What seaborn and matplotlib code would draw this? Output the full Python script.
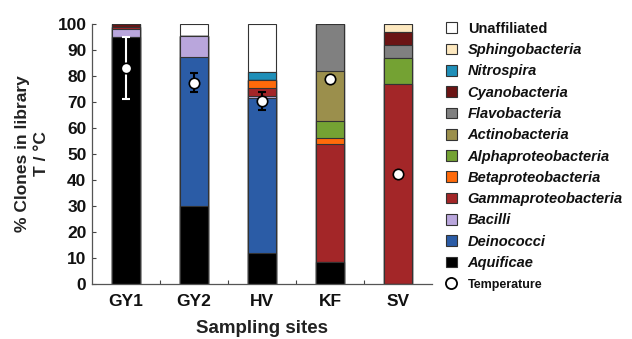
import numpy as np
import pandas as pd
import matplotlib
matplotlib.use("Agg")
import matplotlib.pyplot as plt
from matplotlib.patches import Patch
from matplotlib.lines import Line2D
import seaborn as sns

sites = ["GY1", "GY2", "HV", "KF", "SV"]

# taxa from bottom to top of the stack
taxa = ["Aquificae", "Deinococci", "Bacilli", "Gammaproteobacteria",
        "Betaproteobacteria", "Alphaproteobacteria", "Actinobacteria",
        "Flavobacteria", "Cyanobacteria", "Nitrospira", "Sphingobacteria",
        "Unaffiliated"]

aquificae = [95.0, 30.0, 12.0, 8.6, 0.0]
deinococci = [0.0, 57.5, 59.5, 0.0, 0.0]
bacilli = [3.0, 8.0, 1.0, 0.0, 0.0]
gammaproteobacteria = [1.0, 0.0, 3.0, 45.3, 77.0]
betaproteobacteria = [0.0, 0.0, 3.0, 2.1, 0.0]
alphaproteobacteria = [0.0, 0.0, 0.0, 6.8, 10.0]
actinobacteria = [0.0, 0.0, 0.0, 19.2, 0.0]
flavobacteria = [0.0, 0.0, 0.0, 18.0, 5.0]
cyanobacteria = [1.0, 0.0, 0.0, 0.0, 5.0]
nitrospira = [0.0, 0.0, 3.0, 0.0, 0.0]
sphingobacteria = [0.0, 0.0, 0.0, 0.0, 3.0]
unaffiliated = [0.0, 4.5, 18.5, 0.0, 0.0]

temperature = [83.0, 77.5, 70.3, 79.0, 42.2]
temperature_err = [12.0, 3.5, 3.5, 0.0, 0.0]

colors = {
    "Aquificae": "#000000",
    "Deinococci": "#2b5ca6",
    "Bacilli": "#b9a6dc",
    "Gammaproteobacteria": "#a32628",
    "Betaproteobacteria": "#ff6a0a",
    "Alphaproteobacteria": "#74a233",
    "Actinobacteria": "#9b8f4c",
    "Flavobacteria": "#808080",
    "Cyanobacteria": "#6b1414",
    "Nitrospira": "#1f8fb8",
    "Sphingobacteria": "#fde8bf",
    "Unaffiliated": "#ffffff",
}

values = [aquificae, deinococci, bacilli, gammaproteobacteria,
          betaproteobacteria, alphaproteobacteria, actinobacteria,
          flavobacteria, cyanobacteria, nitrospira, sphingobacteria,
          unaffiliated]

df = pd.DataFrame(dict(zip(taxa, values)), index=sites)
cum = df.cumsum(axis=1)

sns.set_theme(style="white")
plt.rcParams["font.family"] = ["Liberation Sans", "DejaVu Sans"]
plt.rcParams["font.weight"] = "bold"

fig = plt.figure(figsize=(6.32, 3.39), dpi=100)
ax = fig.add_axes([92 / 632, 1 - 284 / 339, 340 / 632, 260 / 339])

# stacked bars: draw cumulative tops from the top layer down
for taxon in reversed(taxa):
    sub = pd.DataFrame({"site": sites, "top": cum[taxon].values})
    sns.barplot(data=sub, x="site", y="top", color=colors[taxon],
                saturation=1, width=0.4, edgecolor="#333333",
                linewidth=0.8, ax=ax, order=sites)

# temperature
xs = np.arange(len(sites))
for i, (t, e) in enumerate(zip(temperature, temperature_err)):
    ec = "white" if i == 0 else "black"
    if e > 0:
        ax.errorbar(xs[i], t, yerr=e, fmt="none", ecolor=ec, elinewidth=1.5,
                    capsize=3, capthick=1.5, zorder=5)
    ax.plot(xs[i], t, "o", ms=7.5, mfc="white", mec="black", mew=1.2,
            zorder=6)

ax.set_xlim(-0.5, 4.5)
ax.set_ylim(0, 100)
ax.set_yticks(range(0, 101, 10))
ax.set_xticks(xs)
ax.set_xticklabels(sites)
ax.set_xticks(xs[:-1] + 0.5, minor=True)
ax.tick_params(axis="x", which="major", length=0, labelsize=12.5, pad=7)
ax.tick_params(axis="x", which="minor", length=3, direction="in",
               width=0.8, color="#444444", bottom=True)
ax.tick_params(axis="y", length=3, direction="in", width=0.8,
               color="#444444", labelsize=12.5, pad=4, left=True)
for lab in ax.get_xticklabels() + ax.get_yticklabels():
    lab.set_fontweight("bold")
    lab.set_color("#111111")

for s in ["top", "right"]:
    ax.spines[s].set_visible(False)
for s in ["left", "bottom"]:
    ax.spines[s].set_color("#555555")
    ax.spines[s].set_linewidth(0.9)

ax.set_xlabel("Sampling sites", fontsize=13.5, fontweight="bold",
              color="#222222", labelpad=8)
ax.set_ylabel("% Clones in library\nT / \u00b0C", fontsize=12.5,
              fontweight="bold", color="#222222", labelpad=6,
              linespacing=1.35)

# legend, top to bottom
leg_order = list(reversed(taxa))
handles = [Patch(facecolor=colors[t], edgecolor="#333333", linewidth=0.8)
           for t in leg_order]
handles.append(Line2D([], [], marker="o", ls="none", ms=8, mfc="white",
                      mec="black", mew=1.3))
labels = leg_order + ["Temperature"]
leg = fig.legend(handles, labels, loc="upper left",
                 bbox_to_anchor=(440 / 632, 1 - 16 / 339), frameon=False,
                 handlelength=0.75, handleheight=0.75, handletextpad=0.75,
                 labelspacing=0.5, fontsize=10.5, borderaxespad=0)
for txt in leg.get_texts():
    txt.set_fontweight("bold")
    txt.set_color("#111111")
    if txt.get_text() not in ("Unaffiliated", "Temperature"):
        txt.set_fontstyle("italic")
    if txt.get_text() == "Temperature":
        txt.set_fontsize(9)

fig.savefig("out.png", dpi=100)
